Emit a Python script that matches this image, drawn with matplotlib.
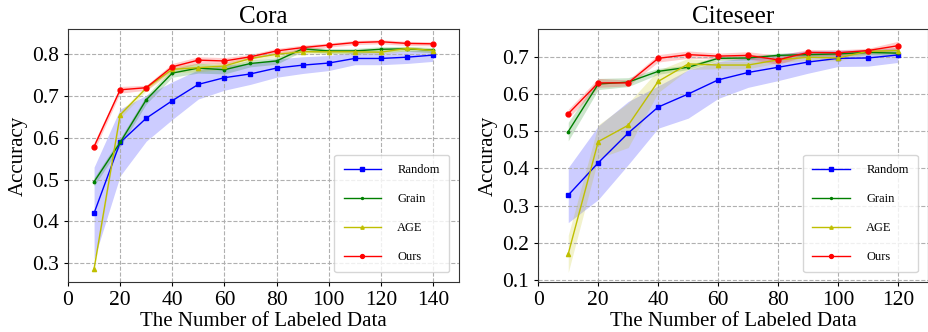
import numpy as np
import matplotlib.pyplot as plt

plt.rcParams["font.family"] = ["Liberation Serif", "DejaVu Serif"]
plt.rcParams["mathtext.fontset"] = "stix"

# Cora
cora_x = [10, 20, 30, 40, 50, 60, 70, 80, 90, 100, 110, 120, 130, 140]
cora_random = [0.420, 0.589, 0.647, 0.689, 0.728, 0.744, 0.753, 0.767, 0.774, 0.779, 0.790, 0.790, 0.793, 0.798]
cora_random_std = [0.110, 0.080, 0.055, 0.045, 0.035, 0.030, 0.025, 0.022, 0.020, 0.018, 0.015, 0.015, 0.015, 0.015]
cora_grain = [0.495, 0.589, 0.691, 0.755, 0.767, 0.763, 0.778, 0.784, 0.813, 0.808, 0.808, 0.812, 0.813, 0.810]
cora_grain_std = [0.010, 0.010, 0.010, 0.010, 0.012, 0.010, 0.008, 0.008, 0.006, 0.006, 0.006, 0.006, 0.006, 0.006]
cora_age = [0.287, 0.655, 0.719, 0.764, 0.768, 0.772, 0.790, 0.800, 0.806, 0.806, 0.806, 0.805, 0.814, 0.809]
cora_age_std = [0.006, 0.008, 0.006, 0.008, 0.010, 0.008, 0.006, 0.006, 0.006, 0.005, 0.005, 0.005, 0.005, 0.005]
cora_ours = [0.579, 0.715, 0.720, 0.770, 0.786, 0.784, 0.794, 0.808, 0.816, 0.822, 0.828, 0.830, 0.826, 0.825]
cora_ours_std = [0.010, 0.008, 0.006, 0.008, 0.008, 0.008, 0.006, 0.006, 0.006, 0.005, 0.005, 0.005, 0.005, 0.005]

# Citeseer
cite_x = [10, 20, 30, 40, 50, 60, 70, 80, 90, 100, 110, 120]
cite_random = [0.328, 0.415, 0.495, 0.565, 0.600, 0.638, 0.658, 0.672, 0.686, 0.696, 0.697, 0.705]
cite_random_std = [0.074, 0.099, 0.085, 0.057, 0.065, 0.050, 0.040, 0.036, 0.030, 0.022, 0.022, 0.020]
cite_grain = [0.499, 0.627, 0.632, 0.661, 0.672, 0.696, 0.697, 0.704, 0.706, 0.708, 0.712, 0.710]
cite_grain_std = [0.025, 0.015, 0.012, 0.008, 0.006, 0.006, 0.006, 0.006, 0.006, 0.006, 0.006, 0.006]
cite_age = [0.170, 0.472, 0.516, 0.634, 0.681, 0.678, 0.678, 0.692, 0.699, 0.697, 0.715, 0.717]
cite_age_std = [0.050, 0.045, 0.060, 0.030, 0.015, 0.010, 0.010, 0.008, 0.008, 0.008, 0.008, 0.008]
cite_ours = [0.547, 0.630, 0.630, 0.696, 0.706, 0.702, 0.704, 0.692, 0.712, 0.711, 0.717, 0.730]
cite_ours_std = [0.012, 0.012, 0.008, 0.010, 0.010, 0.008, 0.010, 0.012, 0.008, 0.008, 0.006, 0.012]

methods = ["Random", "Grain", "AGE", "Ours"]
colors = ["b", "g", "y", "r"]
markers = ["s", ".", "^", "o"]
msizes = [3.5, 3.5, 3, 3.5]


def draw(ax, x, means, stds, title, xlim, ylim, yticks):
    x = np.array(x)
    for m, s, name, c, mk, ms in zip(means, stds, methods, colors, markers, msizes):
        m = np.array(m)
        s = np.array(s)
        ax.plot(x, m, color=c, marker=mk, markersize=ms, linewidth=1, label=name)
        ax.fill_between(x, m - s, m + s, color=c, alpha=0.2, linewidth=0)
    ax.set_xlim(xlim)
    ax.set_ylim(ylim)
    ax.set_xticks(np.arange(0, xlim[1], 20))
    ax.set_yticks(yticks)
    ax.tick_params(labelsize=15.5, length=3)
    ax.grid(True, linestyle="--", color="#b0b0b0", linewidth=0.8)
    ax.set_title(title, fontsize=18, pad=4)
    ax.set_xlabel("The Number of Labeled Data", fontsize=15, labelpad=1)
    ax.set_ylabel("Accuracy", fontsize=15, labelpad=3)
    for sp in ax.spines.values():
        sp.set_color("#333333")
    ax.legend(loc="lower right", fontsize=9, handlelength=3.0, handletextpad=1.3,
              labelspacing=1.35, borderpad=0.75, markerscale=0.8,
              fancybox=True, framealpha=0.8, borderaxespad=0.8)


fig = plt.figure(figsize=(9.29, 3.32), dpi=100)
ax1 = fig.add_axes([0.0732, 0.1497, 0.4209, 0.763])
ax2 = fig.add_axes([0.5794, 0.1497, 0.4195, 0.763])

draw(ax1, cora_x,
     [cora_random, cora_grain, cora_age, cora_ours],
     [cora_random_std, cora_grain_std, cora_age_std, cora_ours_std],
     "Cora", (0, 150), (0.2545, 0.8605), [0.3, 0.4, 0.5, 0.6, 0.7, 0.8])
draw(ax2, cite_x,
     [cite_random, cite_grain, cite_age, cite_ours],
     [cite_random_std, cite_grain_std, cite_age_std, cite_ours_std],
     "Citeseer", (0, 130), (0.0935, 0.775), [0.1, 0.2, 0.3, 0.4, 0.5, 0.6, 0.7])

fig.savefig("out.png", dpi=100)
